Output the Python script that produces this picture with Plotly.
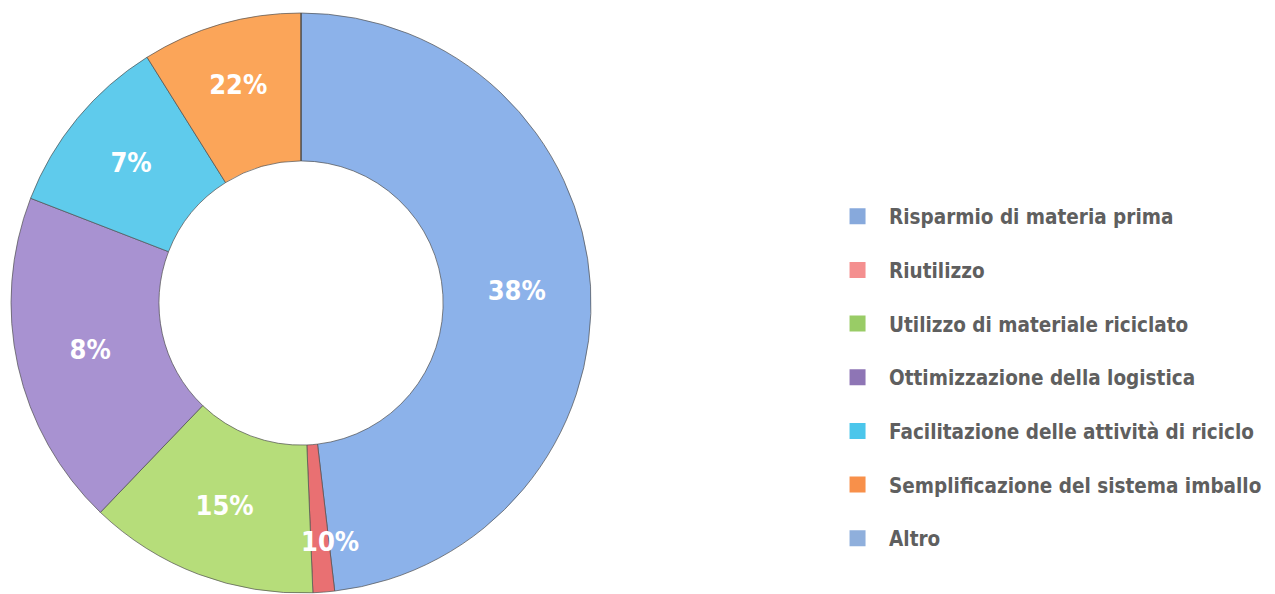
import math
import plotly.graph_objects as go

# Data
categories = [
    "Risparmio di materia prima",
    "Riutilizzo",
    "Utilizzo di materiale riciclato",
    "Ottimizzazione della logistica",
    "Facilitazione delle attività di riciclo",
    "Semplificazione del sistema imballo",
    "Altro",
]
# slice sizes as drawn (share of the ring, %)
slice_sizes = [48.1, 1.2, 12.8, 18.7, 10.2, 8.9, 0]
# labels printed on the slices
slice_labels = ["38%", "10%", "15%", "8%", "7%", "22%", ""]

slice_colors = ["#8cb2ea", "#e97072", "#b6dd7a", "#a892d1", "#5fcbec", "#fba559", "#8fafdc"]
legend_colors = ["#87a9dc", "#f48f8f", "#99cc66", "#8e75b5", "#4bc6eb", "#f8904a", "#8fafdc"]

FONT = "DejaVu Sans Condensed, Liberation Sans Narrow, sans-serif"
W, H = 1275, 594
dom_x = [0.00235, 0.4573]
dom_y = [0.01515, 0.99158]

# the thin "Riutilizzo" slice can't hold its label, it gets an annotation instead
thin = 1
pie_text = [t if i != thin else "" for i, t in enumerate(slice_labels)]

fig = go.Figure()

# donut
fig.add_trace(go.Pie(
    labels=categories,
    values=slice_sizes,
    text=pie_text,
    textinfo="text",
    textposition="inside",
    insidetextorientation="horizontal",
    textfont=dict(family=FONT, size=27, color="white", weight="bold"),
    hole=0.49,
    sort=False,
    direction="clockwise",
    rotation=0,
    marker=dict(colors=slice_colors, line=dict(color="rgba(80,80,80,0.7)", width=1)),
    showlegend=False,
    hoverinfo="label",
    domain=dict(x=dom_x, y=dom_y),
))

# label of the thin slice, placed at the slice's mid angle
total = sum(slice_sizes)
mid = (sum(slice_sizes[:thin]) + slice_sizes[thin] / 2) / total * 2 * math.pi
cx = (dom_x[0] + dom_x[1]) / 2 * W
cy = (dom_y[0] + dom_y[1]) / 2 * H
rad = min((dom_x[1] - dom_x[0]) * W, (dom_y[1] - dom_y[0]) * H) / 2 * 0.824
fig.add_annotation(
    x=(cx + rad * math.sin(mid)) / W, y=(cy + rad * math.cos(mid)) / H,
    xref="paper", yref="paper", xanchor="center", yanchor="middle", xshift=10,
    text=slice_labels[thin], showarrow=False,
    font=dict(family=FONT, size=27, color="white", weight="bold"),
)

# legend entries (one per category, so rows can be spaced out)
for name, col in zip(categories, legend_colors):
    fig.add_trace(go.Scatter(
        x=[None], y=[None], mode="markers", name=name, legendgroup=name,
        marker=dict(symbol="square", size=21, color=col),
    ))

fig.update_layout(
    width=W,
    height=H,
    autosize=False,
    margin=dict(l=0, r=0, t=0, b=0, autoexpand=False),
    paper_bgcolor="white",
    plot_bgcolor="white",
    uniformtext=dict(minsize=27, mode="show"),
    legend=dict(
        x=0.6416, xanchor="left",
        y=0.378, yanchor="middle",
        font=dict(family=FONT, size=20.5, color="#5f5f5f", weight="bold"),
        traceorder="grouped",
        tracegroupgap=24,
        itemsizing="trace",
        itemwidth=53,
    ),
)
fig.update_xaxes(visible=False)
fig.update_yaxes(visible=False)

fig.write_html("out.html")
